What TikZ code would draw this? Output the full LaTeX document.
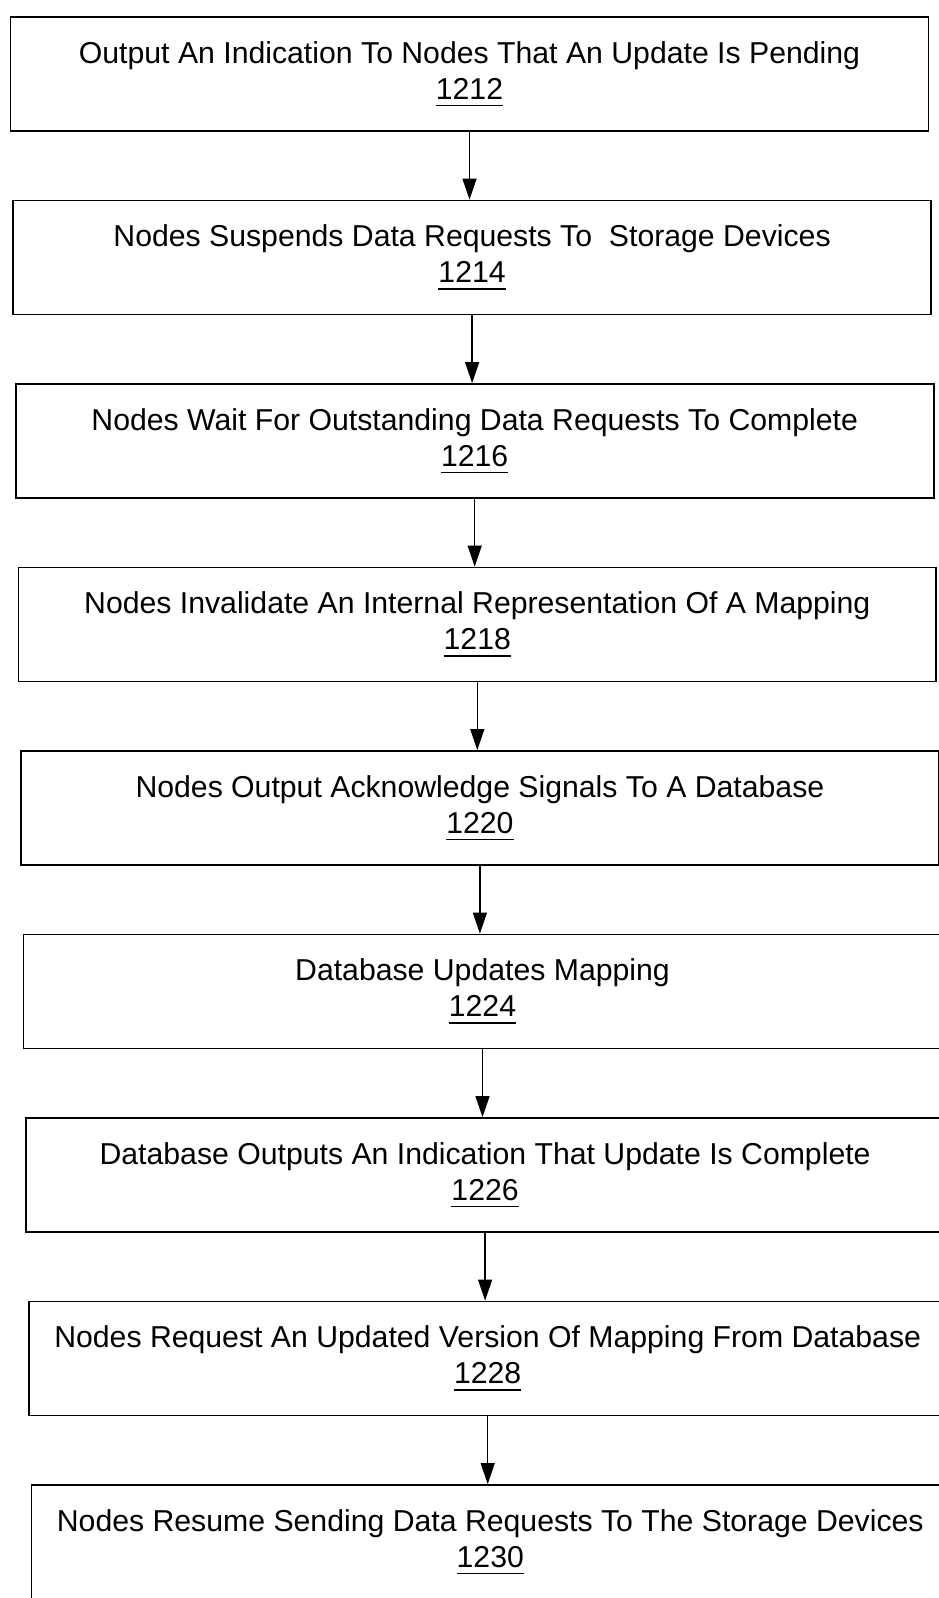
\documentclass[tikz,border=0pt]{standalone}
\usepackage{fontspec}
\setmainfont{Liberation Sans}
\usetikzlibrary{arrows.meta}
\newcommand{\refnum}[1]{\setbox0\hbox{#1}\usebox0\llap{\rule[-4pt]{\wd0}{1pt}}}

\begin{document}
\begin{tikzpicture}[
    x=0.02cm, y=-0.02cm,
    step box/.style={draw, line width=1pt, minimum width=18.36cm, minimum height=2.28cm, align=center,
      font=\fontsize{17.2}{20.5}\selectfont},
    arrow/.style={-{Triangle[length=12pt, width=8pt]}, line width=0.7pt}
  ]

  \useasboundingbox (0,0) rectangle (939,1598);
  \clip (0,0) rectangle (939,1598);

  % Steps of the mapping update, top to bottom
  \node[step box] (s1212) at (469.5,74) {Output An Indication To Nodes That An Update Is Pending\\\refnum{1212}};
  \node[step box] (s1214) at (472.1,257.5) {Nodes Suspends Data Requests To\ \ Storage Devices\\\refnum{1214}};
  \node[step box] (s1216) at (474.7,441) {Nodes Wait For Outstanding Data Requests To Complete\\\refnum{1216}};
  \node[step box] (s1218) at (477.3,624.5) {Nodes Invalidate An Internal Representation Of A Mapping\\\refnum{1218}};
  \node[step box] (s1220) at (479.9,808) {Nodes Output Acknowledge Signals To A Database\\\refnum{1220}};
  \node[step box] (s1224) at (482.5,991.5) {Database Updates Mapping\\\refnum{1224}};
  \node[step box] (s1226) at (485.1,1175) {Database Outputs An Indication That Update Is Complete\\\refnum{1226}};
  \node[step box] (s1228) at (487.7,1358.5) {Nodes Request An Updated Version Of Mapping From Database\\\refnum{1228}};
  \node[step box] (s1230) at (490.3,1542) {Nodes Resume Sending Data Requests To The Storage Devices\\\refnum{1230}};

  % Flow arrows
  \draw[arrow] (s1212.south) -- (s1212.south |- s1214.north);
  \draw[arrow] (s1214.south) -- (s1214.south |- s1216.north);
  \draw[arrow] (s1216.south) -- (s1216.south |- s1218.north);
  \draw[arrow] (s1218.south) -- (s1218.south |- s1220.north);
  \draw[arrow] (s1220.south) -- (s1220.south |- s1224.north);
  \draw[arrow] (s1224.south) -- (s1224.south |- s1226.north);
  \draw[arrow] (s1226.south) -- (s1226.south |- s1228.north);
  \draw[arrow] (s1228.south) -- (s1228.south |- s1230.north);

\end{tikzpicture}
\end{document}
